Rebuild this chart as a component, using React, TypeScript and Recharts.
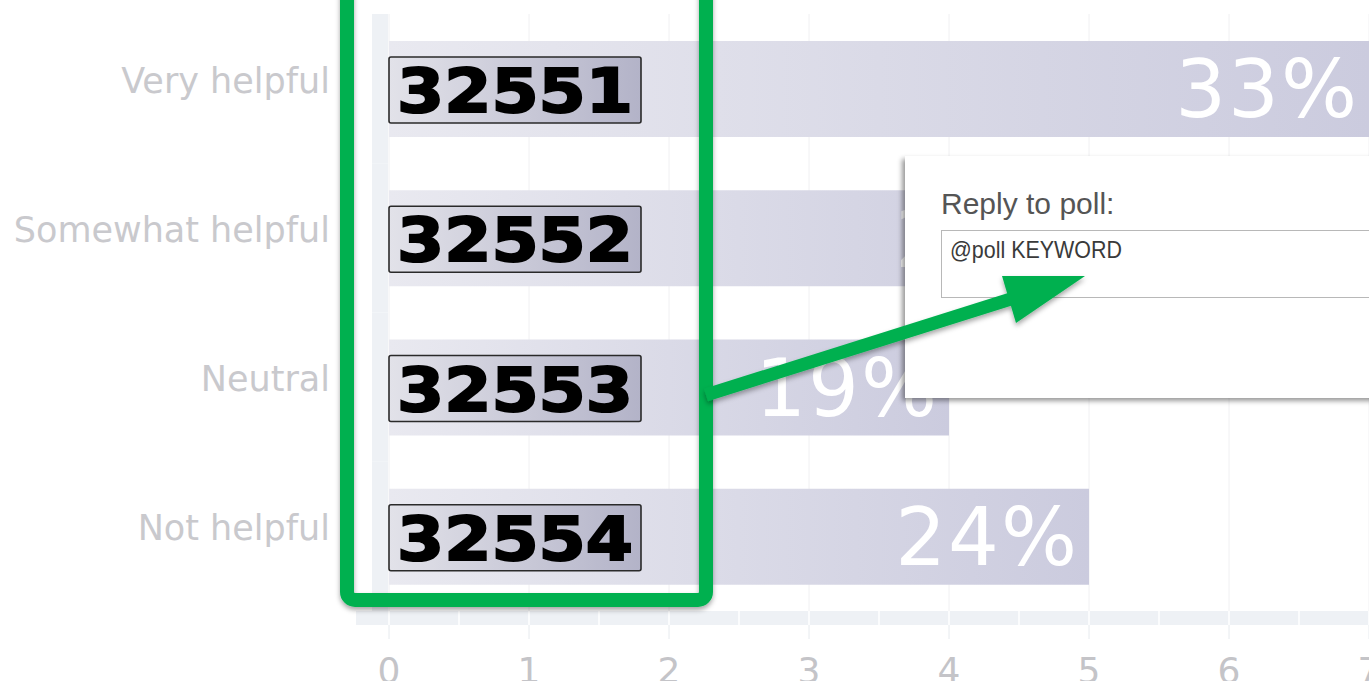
import { Bar, BarChart, CartesianGrid, LabelList, XAxis, YAxis } from "recharts";

const categories = ["Very helpful", "Somewhat helpful", "Neutral", "Not helpful"];
const counts = [7, 5, 4, 5];
const keywords = ["32551", "32552", "32553", "32554"];
const xTicks = [0, 1, 2, 3, 4, 5, 6, 7];

const CHART_W = 1369;
const CHART_H = 681;
const Y_AXIS_W = 389;
const X_AXIS_H = 70;
const TOP = 14;
const UNIT = (CHART_W - Y_AXIS_W) / (xTicks.length - 1);
const BAND = (CHART_H - X_AXIS_H - TOP) / categories.length;

const total = counts.reduce((a, b) => a + b, 0);
const data = categories.map((name, i) => ({
  name,
  count: counts[i],
  pct: `${Math.round((counts[i] / total) * 100)}%`,
  keyword: keywords[i],
}));

const wallColor = "#eef1f5";
const green = "#00b050";

function XTick(props: any) {
  const { x, y, payload } = props;
  const v = payload.value as number;
  const last = xTicks[xTicks.length - 1];
  return (
    <g>
      {v < last && <rect x={x} y={y} width={UNIT} height={14} fill={wallColor} />}
      {v === 0 && <rect x={x - 33} y={y} width={33} height={14} fill={wallColor} />}
      {v < last && (
        <line x1={x + UNIT / 2} x2={x + UNIT / 2} y1={y} y2={y + 14} stroke="#fff" strokeWidth={1.5} />
      )}
      <line x1={x} x2={x} y1={y} y2={y + 14} stroke="#fff" strokeWidth={1.5} />
      <line x1={x} x2={x} y1={y + 14} y2={y + 28} stroke="#e6eaee" />
      <text
        x={x}
        y={y + 72}
        textAnchor="middle"
        fontSize={36}
        fill="#c4c4c8"
        fontFamily="DejaVu Sans"
      >
        {v}
      </text>
    </g>
  );
}

function YTick(props: any) {
  const { x, y, payload } = props;
  const isLast = payload.value === categories[categories.length - 1];
  return (
    <g>
      <rect
        x={x - 17}
        y={y - BAND / 2}
        width={16}
        height={BAND + (isLast ? 14 : 0)}
        fill={wallColor}
      />
      <text
        x={x - 59}
        y={y + 4}
        textAnchor="end"
        fontSize={35}
        fill="#c9c9cd"
        fontFamily="DejaVu Sans"
      >
        {payload.value}
      </text>
    </g>
  );
}

function KeywordBadge(props: any) {
  const vb = props.viewBox ?? props;
  const bx = Number(vb.x);
  const cy = Number(vb.y) + Number(vb.height) / 2 + 1;
  return (
    <g>
      <rect
        x={bx}
        y={cy - 33}
        width={252}
        height={66}
        rx={2}
        fill="url(#kwFill)"
        stroke="#2a2a2a"
        strokeWidth={1.6}
      />
      <text
        x={bx + 8}
        y={cy + 22}
        fontSize={60}
        fontWeight={700}
        fontFamily="DejaVu Sans"
        fill="#000"
        stroke="#000"
        strokeWidth={2}
        textLength={236}
        lengthAdjust="spacingAndGlyphs"
      >
        {props.value}
      </text>
    </g>
  );
}

function Overlay() {
  return (
    <svg
      width={CHART_W}
      height={CHART_H}
      style={{ position: "absolute", left: 0, top: 0, pointerEvents: "none" }}
    >
      <defs>
        <filter id="popShadow" x="-10%" y="-10%" width="130%" height="130%">
          <feDropShadow dx={-3} dy={3} stdDeviation={2.5} floodColor="#000" floodOpacity={0.4} />
        </filter>
        <filter id="greenShadow" x="-10%" y="-10%" width="130%" height="130%">
          <feDropShadow dx={0} dy={3} stdDeviation={2.5} floodColor="#000" floodOpacity={0.35} />
        </filter>
      </defs>

      {/* reply popup */}
      <rect x={905} y={156} width={520} height={242} fill="#fff" filter="url(#popShadow)" />
      <text x={941} y={214} fontSize={30} fill="#555" fontFamily="Liberation Sans, Arial">
        Reply to poll:
      </text>
      <rect x={941.5} y={230.5} width={500} height={67} fill="#fff" stroke="#b8b8b8" />
      <text
        x={950}
        y={258}
        fontSize={24}
        fill="#3a3a3a"
        fontFamily="Liberation Sans, Arial"
        textLength={172}
        lengthAdjust="spacingAndGlyphs"
      >
        @poll KEYWORD
      </text>

      {/* green frame round the keywords */}
      <rect
        x={347}
        y={-30}
        width={359}
        height={630}
        rx={8}
        fill="none"
        stroke={green}
        strokeWidth={14}
        filter="url(#greenShadow)"
      />

      {/* arrow */}
      <g filter="url(#greenShadow)">
        <line x1={706} y1={395} x2={1014} y2={298} stroke={green} strokeWidth={13} />
        <polygon points="1085,276 1002,276 1016,323" fill={green} />
      </g>
    </svg>
  );
}

export default function App() {
  return (
    <div
      style={{
        position: "fixed",
        left: 0,
        top: 0,
        width: CHART_W,
        height: CHART_H,
        overflow: "hidden",
        background: "#fff",
      }}
    >
      <BarChart
        width={CHART_W}
        height={CHART_H}
        data={data}
        layout="vertical"
        margin={{ top: TOP, right: 0, bottom: 0, left: 0 }}
      >
        <defs>
          <linearGradient id="barFill" x1="0" y1="0" x2="1" y2="0">
            <stop offset="0%" stopColor="#e9e9f0" />
            <stop offset="100%" stopColor="#cbcbde" />
          </linearGradient>
          <linearGradient id="kwFill" x1="0" y1="0" x2="1" y2="0">
            <stop offset="0%" stopColor="#e2e2e9" />
            <stop offset="100%" stopColor="#b3b3c8" />
          </linearGradient>
        </defs>
        <CartesianGrid horizontal={false} stroke="#f0f0f2" />
        <XAxis
          type="number"
          domain={[0, 7]}
          ticks={xTicks}
          height={X_AXIS_H}
          axisLine={false}
          tickLine={false}
          tickSize={0}
          tickMargin={0}
          interval={0}
          tick={<XTick />}
        />
        <YAxis
          type="category"
          dataKey="name"
          width={Y_AXIS_W}
          axisLine={false}
          tickLine={false}
          tickSize={0}
          tickMargin={0}
          interval={0}
          tick={<YTick />}
        />
        <Bar dataKey="count" barSize={96} fill="url(#barFill)" isAnimationActive={false}>
          <LabelList
            dataKey="pct"
            position="insideRight"
            offset={10}
            fill="#fff"
            fontSize={80}
            fontFamily="DejaVu Sans"
            style={{ letterSpacing: 2 }}
          />
          <LabelList dataKey="keyword" content={<KeywordBadge />} />
        </Bar>
      </BarChart>
      <Overlay />
    </div>
  );
}
